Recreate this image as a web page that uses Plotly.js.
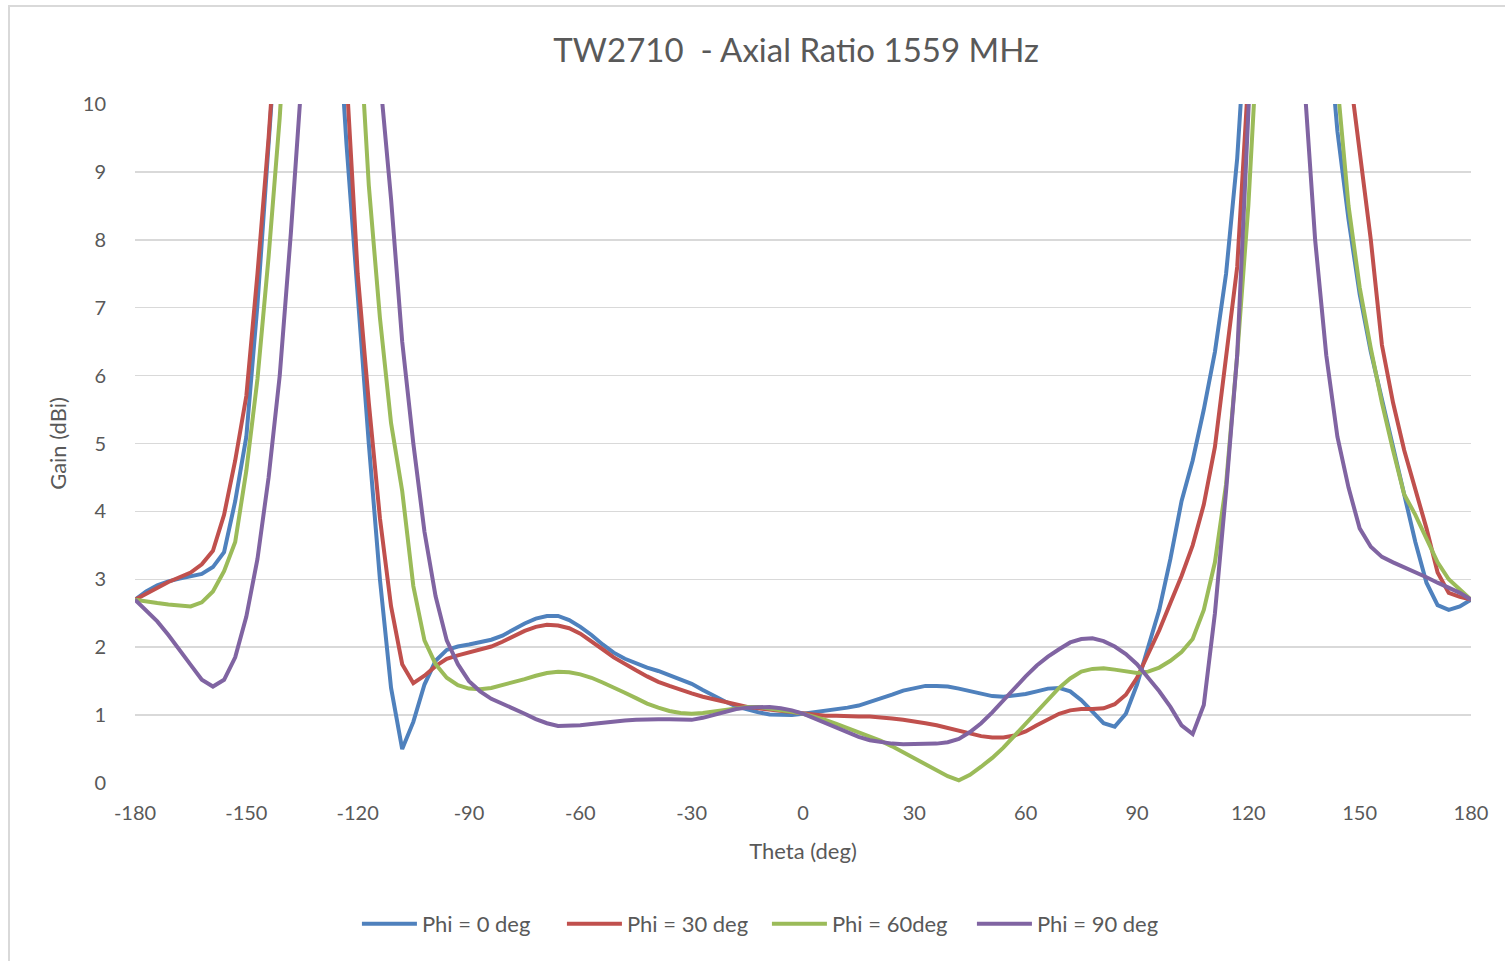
<!DOCTYPE html>
<html>
<head>
<meta charset="utf-8">
<script src="https://cdn.plot.ly/plotly-3.0.1.min.js"></script>
<style>html,body{margin:0;padding:0;background:#fff;}#chart{width:1505px;height:961px;}</style>
</head>
<body>
<div id="chart"></div>
<script>
const theta = [-180,-177,-174,-171,-168,-165,-162,-159,-156,-153,-150,-147,-144,-141,-138,-135,-132,-129,-126,-123,-120,-117,-114,-111,-108,-105,-102,-99,-96,-93,-90,-87,-84,-81,-78,-75,-72,-69,-66,-63,-60,-57,-54,-51,-48,-45,-42,-39,-36,-33,-30,-27,-24,-21,-18,-15,-12,-9,-6,-3,0,3,6,9,12,15,18,21,24,27,30,33,36,39,42,45,48,51,54,57,60,63,66,69,72,75,78,81,84,87,90,93,96,99,102,105,108,111,114,117,120,123,126,129,132,135,138,141,144,147,150,153,156,159,162,165,168,171,174,177,180];

const phi0 = [2.70,2.82,2.91,2.97,3.01,3.04,3.08,3.18,3.40,4.15,5.10,7.05,9.10,11.2,14.0,16.5,17.0,15.5,12.0,9.40,7.20,5.00,3.00,1.40,0.50,0.90,1.45,1.80,1.96,2.01,2.04,2.07,2.11,2.17,2.26,2.35,2.42,2.46,2.46,2.40,2.30,2.18,2.04,1.92,1.83,1.76,1.70,1.65,1.59,1.53,1.46,1.37,1.28,1.20,1.13,1.08,1.04,1.01,1.00,1.00,1.02,
 1.04,1.06,1.08,1.11,1.14,1.19,1.25,1.30,1.36,1.40,1.43,1.43,1.42,1.39,1.35,1.31,1.28,1.27,1.29,1.31,1.35,1.39,1.40,1.35,1.22,1.05,0.88,0.83,1.02,1.45,2.00,2.55,3.30,4.15,4.75,5.50,6.35,7.50,9.20,12.5,16.0,18.5,19.5,19.0,17.0,14.5,11.5,9.60,8.30,7.20,6.35,5.65,4.90,4.20,3.55,2.95,2.62,2.55,2.60,2.70];

const phi30 = [2.70,2.79,2.88,2.96,3.03,3.10,3.22,3.42,3.95,4.75,5.70,7.50,9.50,12.5,15.5,18.0,19.0,18.0,14.5,10.4,7.50,5.60,3.90,2.60,1.75,1.47,1.58,1.72,1.83,1.88,1.92,1.96,2.01,2.08,2.16,2.24,2.30,2.33,2.32,2.28,2.20,2.09,1.97,1.85,1.75,1.66,1.57,1.49,1.43,1.37,1.32,1.27,1.23,1.19,1.15,1.12,1.10,1.08,1.06,1.04,1.02,
 1.00,0.99,0.99,0.98,0.98,0.98,0.97,0.95,0.93,0.91,0.88,0.85,0.81,0.76,0.72,0.69,0.67,0.67,0.70,0.76,0.85,0.94,1.02,1.07,1.09,1.09,1.10,1.16,1.30,1.55,1.90,2.25,2.65,3.05,3.50,4.10,4.95,6.30,7.60,10.4,14.0,17.5,19.5,20.0,19.0,17.0,14.5,12.3,10.6,9.30,8.00,6.45,5.60,4.90,4.35,3.75,3.10,2.80,2.74,2.70];

const phi60 = [2.70,2.67,2.65,2.63,2.61,2.60,2.66,2.82,3.12,3.55,4.60,5.95,7.75,9.80,12.5,15.5,17.0,17.0,15.0,13.0,11.6,8.80,6.85,5.30,4.30,2.90,2.10,1.75,1.55,1.44,1.39,1.38,1.40,1.44,1.48,1.53,1.58,1.62,1.64,1.63,1.60,1.55,1.48,1.41,1.33,1.25,1.17,1.11,1.06,1.03,1.02,1.03,1.05,1.08,1.10,1.12,1.12,1.10,1.08,1.05,1.02,
 0.98,0.93,0.87,0.81,0.75,0.69,0.62,0.54,0.45,0.36,0.27,0.18,0.10,0.04,0.12,0.24,0.37,0.52,0.70,0.88,1.06,1.24,1.40,1.54,1.64,1.68,1.69,1.67,1.64,1.62,1.64,1.70,1.80,1.93,2.12,2.55,3.25,4.40,6.30,8.50,11.5,15.0,18.0,19.0,18.0,16.0,12.5,10.3,8.50,7.30,6.40,5.60,4.90,4.25,3.95,3.60,3.25,3.00,2.85,2.70];

const phi90 = [2.70,2.55,2.38,2.18,1.97,1.74,1.52,1.42,1.52,1.85,2.45,3.30,4.50,6.00,8.10,10.6,13.5,16.0,17.5,17.0,15.5,13.5,10.4,8.60,6.50,5.00,3.70,2.75,2.10,1.75,1.50,1.35,1.24,1.17,1.10,1.02,0.94,0.88,0.84,0.84,0.85,0.87,0.89,0.91,0.92,0.93,0.94,0.94,0.94,0.93,0.93,0.96,1.00,1.05,1.09,1.11,1.12,1.12,1.10,1.07,1.02,
 0.95,0.88,0.81,0.74,0.68,0.63,0.60,0.58,0.57,0.57,0.57,0.58,0.60,0.65,0.75,0.88,1.04,1.22,1.40,1.57,1.73,1.86,1.97,2.07,2.12,2.13,2.09,2.01,1.90,1.75,1.55,1.35,1.12,0.85,0.72,1.15,2.50,4.30,6.30,10.1,14.0,17.0,17.0,14.0,10.4,8.00,6.30,5.10,4.35,3.75,3.48,3.33,3.25,3.18,3.11,3.03,2.95,2.88,2.80,2.70];

const seriesNames = ['Phi = 0 deg','Phi = 30 deg','Phi = 60deg','Phi = 90 deg'];
const seriesColors = ['#4F81BD','#C0504D','#9BBB59','#8064A2'];
const seriesData = [phi0, phi30, phi60, phi90];
const xTickVals = [-180,-150,-120,-90,-60,-30,0,30,60,90,120,150,180];
const yTickVals = [0,1,2,3,4,5,6,7,8,9,10];

const FONT = 'Lato, "Open Sans", sans-serif';
const traces = seriesData.map((d,i)=>({
  x: theta, y: d, type:'scatter', mode:'lines', name: seriesNames[i],
  line:{color:seriesColors[i], width:4}
}));

const layout = {
  width:1505, height:961,
  paper_bgcolor:'#ffffff', plot_bgcolor:'#ffffff',
  margin:{l:135, r:34, t:104, b:178},
  font:{family:FONT, color:'#595959', size:20},
  title:{text:'TW2710  - Axial Ratio 1559 MHz', font:{family:FONT, size:33, color:'#595959'},
         xref:'container', x:0.529, xanchor:'center', yref:'container', y:0.948, yanchor:'middle'},
  xaxis:{range:[-180,180], tickvals:xTickVals, ticktext:xTickVals.map(String), showgrid:false, zeroline:false,
         showline:false, ticks:'', ticklabelstandoff:16, tickfont:{family:FONT, size:20, color:'#595959'},
         title:{text:'Theta (deg)', font:{family:FONT, size:22, color:'#595959'}, standoff:20}},
  yaxis:{range:[0,10], tickvals:yTickVals, showgrid:true, gridcolor:'#d9d9d9', gridwidth:1.5, zeroline:false,
         showline:false, ticks:'', ticklabelstandoff:28, tickfont:{family:FONT, size:20, color:'#595959'},
         title:{text:'Gain (dBi)', font:{family:FONT, size:22, color:'#595959'}, standoff:10}},
  showlegend:true,
  legend:{orientation:'h', x:0.473, xanchor:'center', y:-0.2077, yanchor:'middle',
          font:{family:FONT, size:22, color:'#595959'}, itemwidth:55, entrywidth:135, entrywidthmode:'pixels', tracegroupgap:0},
  shapes:[
    {type:'rect', xref:'paper', yref:'paper', x0:-0.0943, x1:1.2, y0:-0.5, y1:1.1443,
     line:{color:'#d9d9d9', width:2}, fillcolor:'rgba(0,0,0,0)', layer:'below'}
  ]
};

Plotly.newPlot('chart', traces, layout, {displayModeBar:false, staticPlot:true});
</script>
</body>
</html>
